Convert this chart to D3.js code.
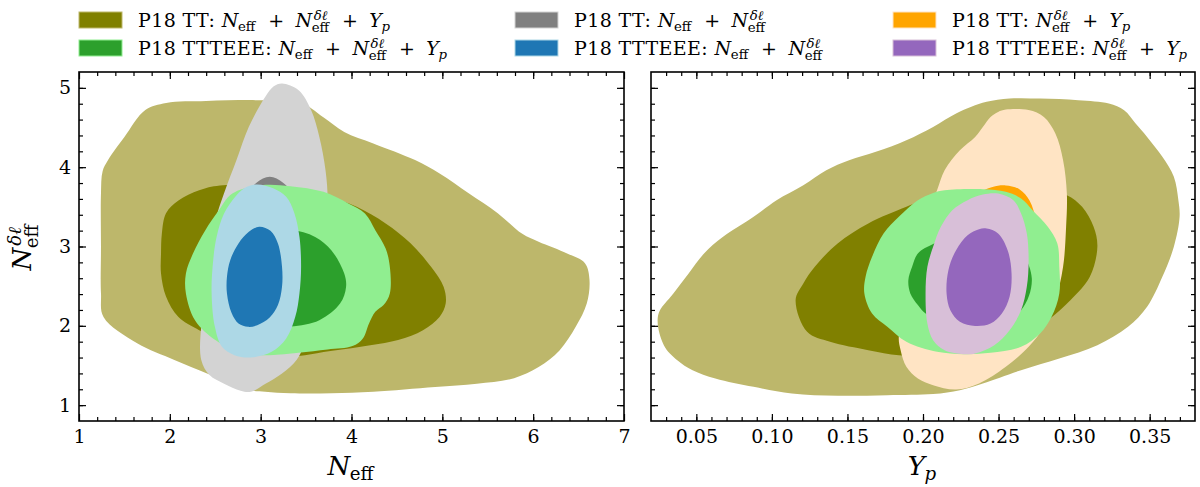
<!DOCTYPE html>
<html>
<head>
<meta charset="utf-8">
<script src="https://cdn.jsdelivr.net/npm/d3@7"></script>
<style>
  html, body { margin: 0; padding: 0; background: #fff; }
  svg { display: block; }
  svg text { font-family: "DejaVu Serif", "Liberation Serif", serif; }
</style>
</head>
<body>
<svg id="chart" width="1200" height="487"></svg>
<script>
// ---------------- DATA ----------------
const xTicksLeft = [1, 2, 3, 4, 5, 6, 7];
const xTicksRight = [0.05, 0.10, 0.15, 0.20, 0.25, 0.30, 0.35];
const yTicks = [1, 2, 3, 4, 5];

// Left panel (N_eff vs N_eff^{δℓ}) contours: [x, y]
const L_olive2 = [[1.242,3.0],[1.242,3.67],[1.26,3.95],[1.32,4.09],[1.5,4.38],[1.73,4.72],[1.96,4.81],[2.4,4.835],[2.96,4.845],[3.42,4.825],[3.69,4.63],[3.92,4.445],[4.24,4.3],[4.7,4.09],[4.97,3.92],[5.29,3.67],[5.61,3.42],[5.88,3.16],[6.06,3.06],[6.38,2.91],[6.57,2.79],[6.62,2.58],[6.59,2.28],[6.47,1.99],[6.29,1.69],[6.06,1.48],[5.79,1.34],[5.38,1.27],[4.92,1.23],[4.24,1.17],[3.78,1.15],[3.33,1.15],[3.05,1.17],[2.87,1.19],[2.69,1.27],[2.41,1.40],[2.05,1.57],[1.64,1.78],[1.27,2.11],[1.242,2.41]];
const L_olive1 = [[1.903,2.91],[1.912,3.16],[1.958,3.42],[2.095,3.58],[2.323,3.71],[2.551,3.77],[3.235,3.77],[3.737,3.63],[4.057,3.5],[4.376,3.29],[4.65,3.04],[4.878,2.74],[5.015,2.49],[5.037,2.28],[4.969,2.11],[4.787,1.945],[4.513,1.82],[4.102,1.735],[3.692,1.67],[3.418,1.62],[3.053,1.65],[2.688,1.735],[2.323,1.945],[2.095,2.11],[1.958,2.37],[1.903,2.66]];
const L_gray2 = [[3.235,5.055],[3.418,4.97],[3.555,4.72],[3.646,4.38],[3.714,3.96],[3.737,3.58],[3.692,2.83],[3.6,2.2],[3.486,1.78],[3.395,1.57],[3.235,1.40],[3.053,1.27],[2.893,1.168],[2.779,1.18],[2.597,1.27],[2.437,1.38],[2.346,1.57],[2.346,1.99],[2.414,2.41],[2.46,2.83],[2.505,3.33],[2.597,3.67],[2.734,4.09],[2.87,4.51],[3.053,4.89],[3.144,5.02]];
const L_gray1 = [[3.1,3.88],[3.25,3.80],[3.45,3.5],[3.55,3.0],[3.5,2.4],[3.3,1.9],[3.0,1.75],[2.75,1.9],[2.6,2.4],[2.6,3.0],[2.75,3.5],[2.95,3.8]];
const L_green2 = [[2.688,3.668],[3.007,3.773],[3.327,3.761],[3.692,3.689],[3.965,3.542],[4.148,3.416],[4.262,3.206],[4.376,2.975],[4.422,2.744],[4.422,2.408],[4.353,2.261],[4.262,2.176],[4.193,2.029],[4.125,1.84],[4.011,1.744],[3.737,1.702],[3.418,1.66],[3.099,1.63],[2.825,1.651],[2.505,1.819],[2.277,2.071],[2.177,2.408],[2.177,2.66],[2.255,2.912],[2.391,3.206],[2.528,3.437]];
const L_green1 = [[3.05,3.2],[3.33,3.21],[3.6,3.12],[3.78,2.95],[3.92,2.66],[3.94,2.49],[3.874,2.28],[3.646,2.07],[3.327,1.99],[2.95,2.0],[2.7,2.15],[2.6,2.5],[2.65,2.85],[2.85,3.1]];
const L_blue2 = [[2.962,3.782],[3.144,3.731],[3.281,3.626],[3.372,3.416],[3.427,3.122],[3.445,2.744],[3.427,2.408],[3.381,2.113],[3.281,1.84],[3.121,1.672],[2.893,1.601],[2.711,1.63],[2.574,1.735],[2.496,1.987],[2.46,2.408],[2.474,2.786],[2.515,3.122],[2.597,3.416],[2.734,3.647],[2.848,3.752]];
const L_blue1 = [[2.984,3.248],[3.108,3.197],[3.19,3.038],[3.235,2.744],[3.235,2.492],[3.19,2.261],[3.099,2.105],[2.962,2.008],[2.861,1.987],[2.756,2.029],[2.679,2.164],[2.629,2.408],[2.629,2.618],[2.665,2.828],[2.756,3.038],[2.87,3.185]];

// Right panel (Y_p vs N_eff^{δℓ}) contours: [x, y]
const R_olive2 = [[0.0247,2.134],[0.0348,2.408],[0.0449,2.66],[0.0551,2.912],[0.0677,3.122],[0.0879,3.374],[0.1031,3.584],[0.1208,3.773],[0.136,3.962],[0.1511,4.088],[0.1688,4.193],[0.189,4.34],[0.2067,4.508],[0.2219,4.676],[0.232,4.761],[0.2421,4.824],[0.2573,4.866],[0.2775,4.866],[0.3028,4.845],[0.323,4.803],[0.3331,4.718],[0.3407,4.55],[0.3483,4.382],[0.3584,4.13],[0.366,3.878],[0.369,3.584],[0.3698,3.374],[0.366,2.996],[0.3584,2.618],[0.3483,2.24],[0.3357,1.987],[0.3154,1.756],[0.2902,1.588],[0.2649,1.441],[0.2396,1.273],[0.2244,1.189],[0.2067,1.14],[0.1764,1.126],[0.1435,1.118],[0.1132,1.147],[0.0879,1.231],[0.0626,1.336],[0.0475,1.441],[0.0374,1.567],[0.0285,1.756]];
const R_olive1 = [[0.1157,2.324],[0.1208,2.534],[0.1284,2.744],[0.1435,3.038],[0.1638,3.29],[0.189,3.5],[0.2067,3.626],[0.2396,3.731],[0.2775,3.71],[0.2952,3.647],[0.3053,3.5],[0.3129,3.248],[0.3154,2.996],[0.3104,2.618],[0.2977,2.324],[0.2826,2.071],[0.2649,1.861],[0.227,1.693],[0.2017,1.64],[0.184,1.63],[0.1638,1.693],[0.1385,1.798],[0.1233,1.924]];
const R_orange2 = [[0.2548,4.727],[0.2699,4.72],[0.28,4.634],[0.2876,4.424],[0.2927,4.088],[0.2952,3.668],[0.2947,3.248],[0.2927,2.744],[0.2876,2.324],[0.28,1.987],[0.2699,1.735],[0.2548,1.483],[0.2371,1.273],[0.2219,1.197],[0.2067,1.252],[0.1966,1.336],[0.189,1.483],[0.1852,1.693],[0.184,1.861],[0.189,2.197],[0.1966,2.828],[0.2042,3.458],[0.2093,3.71],[0.2143,3.962],[0.2244,4.214],[0.2345,4.382],[0.2396,4.508],[0.2447,4.634],[0.2497,4.697]];
const R_orange1 = [[0.2548,3.77],[0.264,3.72],[0.2705,3.58],[0.275,3.3],[0.276,2.9],[0.272,2.4],[0.262,1.98],[0.245,1.82],[0.228,1.9],[0.218,2.3],[0.216,2.9],[0.222,3.35],[0.235,3.65],[0.246,3.75]];
const R_green2 = [[0.2143,3.71],[0.2396,3.723],[0.2548,3.689],[0.2649,3.605],[0.2725,3.458],[0.2826,3.248],[0.2889,3.038],[0.2902,2.744],[0.2902,2.408],[0.2851,2.113],[0.2775,1.903],[0.2649,1.735],[0.2447,1.66],[0.227,1.643],[0.2093,1.672],[0.189,1.798],[0.1764,1.987],[0.1663,2.155],[0.1612,2.408],[0.162,2.618],[0.1663,2.87],[0.1739,3.164],[0.184,3.374],[0.1966,3.584],[0.2067,3.676]];
const R_green1 = [[0.2067,3.03],[0.215,3.1],[0.24,3.15],[0.262,3.0],[0.272,2.6],[0.265,2.2],[0.245,2.0],[0.215,2.05],[0.2017,2.155],[0.1966,2.261],[0.1916,2.408],[0.1903,2.576],[0.1928,2.744],[0.1966,2.912]];
const R_purple2 = [[0.2497,3.668],[0.2598,3.584],[0.2649,3.416],[0.2687,3.164],[0.2699,2.828],[0.2687,2.492],[0.2649,2.197],[0.2573,1.945],[0.2472,1.756],[0.2345,1.651],[0.227,1.643],[0.2143,1.693],[0.2067,1.819],[0.2029,2.029],[0.2017,2.408],[0.2029,2.744],[0.2067,2.996],[0.2118,3.248],[0.2194,3.458],[0.2295,3.584],[0.2396,3.655]];
const R_purple1 = [[0.2421,3.227],[0.2497,3.164],[0.256,2.954],[0.2586,2.66],[0.2573,2.366],[0.2522,2.155],[0.2447,2.029],[0.2345,1.999],[0.2244,2.05],[0.2181,2.197],[0.2156,2.408],[0.2168,2.702],[0.2219,2.954],[0.2295,3.143],[0.2371,3.219]];

// colours (inner = 1σ, outer = 2σ)
const colors = {
  olive:  { inner: "#808000", outer: "#bdb76b" },
  gray:   { inner: "#808080", outer: "#d3d3d3" },
  green:  { inner: "#2ca02c", outer: "#90ee90" },
  blue:   { inner: "#1f77b4", outer: "#add8e6" },
  orange: { inner: "#ffa500", outer: "#ffe4c4" },
  purple: { inner: "#9467bd", outer: "#d8bfd8" }
};

const leftSeries = [
  { key: "olive", c2: L_olive2, c1: L_olive1 },
  { key: "gray",  c2: L_gray2,  c1: L_gray1 },
  { key: "green", c2: L_green2, c1: L_green1 },
  { key: "blue",  c2: L_blue2,  c1: L_blue1 }
];
const rightSeries = [
  { key: "olive",  c2: R_olive2,  c1: R_olive1 },
  { key: "orange", c2: R_orange2, c1: R_orange1 },
  { key: "green",  c2: R_green2,  c1: R_green1 },
  { key: "purple", c2: R_purple2, c1: R_purple1 }
];

// legend (row-major: col, row)
const NEFF = [{t:"N", it:true}, {sub:"eff"}];
const NDL = [{t:"N", it:true}, {sup:"δℓ", sub:"eff"}];
const YP = [{t:"Y", it:true}, {sub:"p", subIt:true}];
const PLUS = [{op:"+"}];
const legendItems = [
  { key: "olive",  col: 0, row: 0, parts: [{t:"P18 TT: "}, ...NEFF, ...PLUS, ...NDL, ...PLUS, ...YP] },
  { key: "green",  col: 0, row: 1, parts: [{t:"P18 TTTEEE: "}, ...NEFF, ...PLUS, ...NDL, ...PLUS, ...YP] },
  { key: "gray",   col: 1, row: 0, parts: [{t:"P18 TT: "}, ...NEFF, ...PLUS, ...NDL] },
  { key: "blue",   col: 1, row: 1, parts: [{t:"P18 TTTEEE: "}, ...NEFF, ...PLUS, ...NDL] },
  { key: "orange", col: 2, row: 0, parts: [{t:"P18 TT: "}, ...NDL, ...PLUS, ...YP] },
  { key: "purple", col: 2, row: 1, parts: [{t:"P18 TTTEEE: "}, ...NDL, ...PLUS, ...YP] }
];

// ---------------- LAYOUT ----------------
const FONT = '"DejaVu Serif", "Liberation Serif", serif';
const svg = d3.select("#chart");
const plotTop = 72, plotBottom = 421;
const leftPanel = { x0: 79, x1: 624 };
const rightPanel = { x0: 651, x1: 1195 };

const yScale = d3.scaleLinear().domain([0.8, 5.2]).range([plotBottom, plotTop]);
const xLeft = d3.scaleLinear().domain([1, 7]).range([leftPanel.x0, leftPanel.x1]);
const xRight = d3.scaleLinear().domain([0.02, 0.38]).range([rightPanel.x0, rightPanel.x1]);

// math-text helper: one <text> element, tspans positioned absolutely
function mathText(parent, parts, size, ls, opPad, scr) {
  opPad = opPad === undefined ? 0.3 : opPad;
  scr = scr || 0.7;
  const text = parent.append("text").style("font-family", FONT).style("font-size", size + "px")
    .style("white-space", "pre");
  let x = 0;
  const add = (str, px, py, fs, italic, spacing) => {
    const t = text.append("tspan").attr("x", px).attr("y", py)
      .style("font-size", fs + "px")
      .style("font-style", italic ? "italic" : "normal")
      .style("letter-spacing", (spacing || 0) + "px")
      .text(str);
    return t.node().getComputedTextLength();
  };
  parts.forEach(p => {
    if (p.t !== undefined) {
      x += add(p.t, x, 0, size, p.it, p.it ? 0 : ls);
    } else if (p.op !== undefined) {
      x += size * opPad;
      x += add(p.op, x, 0, size, false, 0);
      x += size * opPad;
    } else {
      const ss = size * scr;
      let w = 0;
      if (p.sup) {
        const off = size * 0.08;
        w = Math.max(w, off + add(p.sup, x + off, -size * 0.39, ss, true, 0));
      }
      if (p.sub) {
        const off = -size * 0.02;
        const dy = p.sup ? size * 0.26 : size * 0.2;
        w = Math.max(w, off + add(p.sub, x + off, dy, ss, p.subIt, 0));
      }
      x += w + size * 0.08;
    }
  });
  return { text, width: x };
}

const line = d3.line().curve(d3.curveCatmullRomClosed.alpha(0.5));

function drawPanel(panel, xScale, series, id) {
  svg.append("clipPath").attr("id", "clip" + id)
    .append("rect").attr("x", panel.x0).attr("y", plotTop)
    .attr("width", panel.x1 - panel.x0).attr("height", plotBottom - plotTop);
  const g = svg.append("g").attr("clip-path", `url(#clip${id})`);
  series.forEach(s => {
    g.append("path").attr("d", line(s.c2.map(d => [xScale(d[0]), yScale(d[1])])))
      .attr("fill", colors[s.key].outer);
    g.append("path").attr("d", line(s.c1.map(d => [xScale(d[0]), yScale(d[1])])))
      .attr("fill", colors[s.key].inner);
  });
}

drawPanel(leftPanel, xLeft, leftSeries, "L");
drawPanel(rightPanel, xRight, rightSeries, "R");

// ---------------- AXES ----------------
const tickFont = 19;
function minorRange(a, b, step) {
  const out = [];
  const n = Math.round((b - a) / step);
  for (let i = 0; i <= n; i++) out.push(+(a + i * step).toFixed(6));
  return out;
}
const yMinor = minorRange(0.8, 5.2, 0.2).filter(v => v > 0.81 && v < 5.19);
const xMinorLeft = minorRange(1, 7, 0.2).filter(v => v > 1.01 && v < 6.99);
const xMinorRight = minorRange(0.02, 0.38, 0.01).filter(v => v > 0.021 && v < 0.379);

function styleAxis(sel) {
  sel.attr("font-family", null).attr("font-size", null);
  sel.select(".domain").remove();
  sel.selectAll(".tick line").attr("stroke", "#000").attr("stroke-width", 1.2);
  sel.selectAll(".tick text").attr("fill", "#000")
    .style("font-size", tickFont + "px")
    .style("font-family", FONT);
}

function drawAxes(panel, xScale, xMajor, xMinor, xFmt, showYLabels) {
  const xs = xScale;
  svg.append("g").attr("transform", `translate(0,${plotBottom})`)
    .call(d3.axisBottom(xs).tickValues(xMinor).tickSizeInner(-4).tickSizeOuter(0).tickFormat(""))
    .call(styleAxis);
  svg.append("g").attr("transform", `translate(0,${plotBottom})`)
    .call(d3.axisBottom(xs).tickValues(xMajor).tickSizeInner(-7).tickSizeOuter(0).tickPadding(9).tickFormat(xFmt))
    .call(styleAxis);
  svg.append("g").attr("transform", `translate(0,${plotTop})`)
    .call(d3.axisTop(xs).tickValues(xMinor).tickSizeInner(-4).tickSizeOuter(0).tickFormat(""))
    .call(styleAxis);
  svg.append("g").attr("transform", `translate(0,${plotTop})`)
    .call(d3.axisTop(xs).tickValues(xMajor).tickSizeInner(-7).tickSizeOuter(0).tickFormat(""))
    .call(styleAxis);
  svg.append("g").attr("transform", `translate(${panel.x0},0)`)
    .call(d3.axisLeft(yScale).tickValues(yMinor).tickSizeInner(-4).tickSizeOuter(0).tickFormat(""))
    .call(styleAxis);
  svg.append("g").attr("transform", `translate(${panel.x0},0)`)
    .call(d3.axisLeft(yScale).tickValues(yTicks).tickSizeInner(-7).tickSizeOuter(0).tickPadding(8)
      .tickFormat(showYLabels ? d3.format("d") : ""))
    .call(styleAxis);
  svg.append("g").attr("transform", `translate(${panel.x1},0)`)
    .call(d3.axisRight(yScale).tickValues(yMinor).tickSizeInner(-4).tickSizeOuter(0).tickFormat(""))
    .call(styleAxis);
  svg.append("g").attr("transform", `translate(${panel.x1},0)`)
    .call(d3.axisRight(yScale).tickValues(yTicks).tickSizeInner(-7).tickSizeOuter(0).tickFormat(""))
    .call(styleAxis);
  svg.append("rect").attr("x", panel.x0).attr("y", plotTop)
    .attr("width", panel.x1 - panel.x0).attr("height", plotBottom - plotTop)
    .attr("fill", "none").attr("stroke", "#000").attr("stroke-width", 1.6);
}

drawAxes(leftPanel, xLeft, xTicksLeft, xMinorLeft, d3.format("d"), true);
drawAxes(rightPanel, xRight, xTicksRight, xMinorRight, d3.format(".2f"), false);

// ---------------- AXIS LABELS ----------------
const labelSize = 26;
{
  const g = svg.append("g");
  const m = mathText(g, NEFF, labelSize, 0);
  g.attr("transform", `translate(${(leftPanel.x0 + leftPanel.x1) / 2 - m.width / 2},475)`);
}
{
  const g = svg.append("g");
  const m = mathText(g, YP, labelSize, 0);
  g.attr("transform", `translate(${(rightPanel.x0 + rightPanel.x1) / 2 - m.width / 2},475)`);
}
{
  const holder = svg.append("g").attr("transform", `translate(31,${(plotTop + plotBottom) / 2}) rotate(-90)`);
  const g = holder.append("g");
  const m = mathText(g, NDL, labelSize, 0);
  g.attr("transform", `translate(${-m.width / 2},0)`);
}

// ---------------- LEGEND ----------------
const legendFont = 19;
const colX = [79, 515, 893];
const rowY = [12, 40];
const swW = 43, swH = 16;
legendItems.forEach(it => {
  const x = colX[it.col], y = rowY[it.row];
  svg.append("rect").attr("x", x).attr("y", y).attr("width", swW).attr("height", swH)
    .attr("fill", colors[it.key].inner)
    .attr("stroke", colors[it.key].outer).attr("stroke-width", 1);
  const g = svg.append("g");
  mathText(g, it.parts, legendFont, 0.4, 0.6, 0.7);
  g.attr("transform", `translate(${x + swW + 16},${y + 15})`);
});
</script>
</body>
</html>
